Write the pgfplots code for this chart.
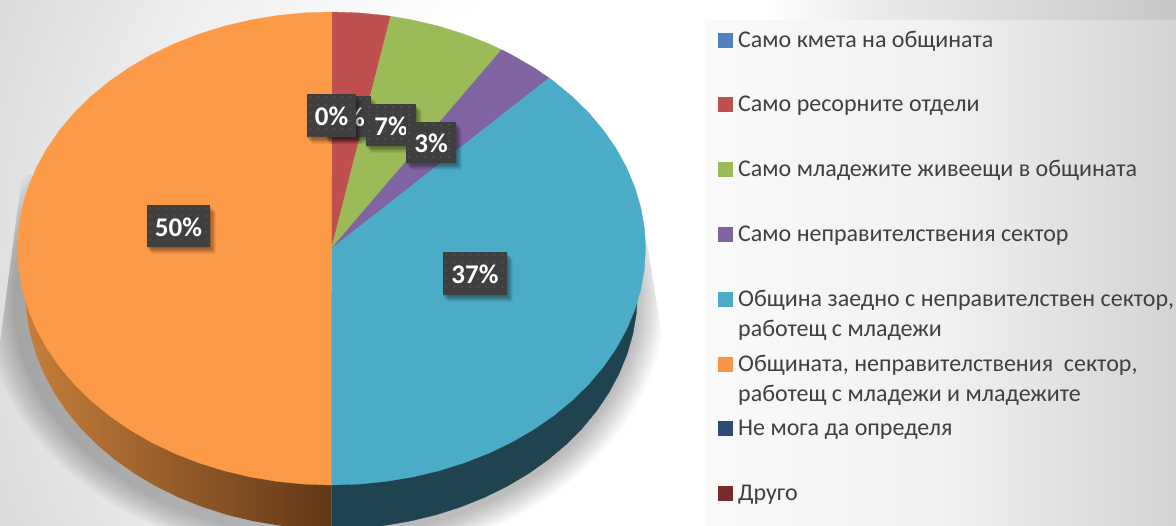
\documentclass[border=0pt]{standalone}
\usepackage{pgfplots}
\pgfplotsset{compat=1.18}
\usepackage{pgfplotstable}
\usepackage{fontspec}
\setmainfont{Carlito}
\definecolor{pblue}{HTML}{4F81BD}
\definecolor{pred}{HTML}{C0504D}
\definecolor{pgreen}{HTML}{9BBB59}
\definecolor{ppurple}{HTML}{8064A2}
\definecolor{pteal}{HTML}{4BACC6}
\definecolor{porange}{HTML}{F79646}
\definecolor{fteal}{HTML}{4BACC8}
\definecolor{forange}{HTML}{FC9A48}
\definecolor{pnavy}{HTML}{2C4D75}
\definecolor{pmaroon}{HTML}{772C2A}
\definecolor{txt}{HTML}{404040}
\definecolor{sideteal}{HTML}{1F4450}
\definecolor{sideL}{HTML}{C67E3A}
\definecolor{sideR}{HTML}{623818}
\definecolor{boxc}{HTML}{3F3F3F}
\definecolor{dotc}{HTML}{555555}
\pgfdeclareradialshading{bgshade}{\pgfpoint{0bp}{0bp}}{color(0bp)=(white); color(10.7bp)=(white); color(18.2bp)=(black!6.5); color(24.6bp)=(black!14); color(25bp)=(black!14); color(50bp)=(black!14)}
\pgfdeclarehorizontalshading{boxshade}{100bp}{color(0bp)=(black!2); color(25bp)=(black!2); color(50bp)=(black!5.5); color(75bp)=(black!17); color(100bp)=(black!17)}
\pgfdeclarehorizontalshading{topshade}{100bp}{color(0bp)=(white); color(25bp)=(white); color(32bp)=(white); color(43bp)=(black!8); color(53bp)=(black!12); color(75bp)=(black!22); color(100bp)=(black!22)}
% slice boundaries: s = sin t, c = cos t, t clockwise from the top of the pie
\pgfplotstableread{
s c
0 0
0 1
.0872 .9962
.1736 .9848
.1885 .9821
}\wedgeRed
\pgfplotstableread{
s c
0 0
.1885 .9821
.2588 .9659
.3420 .9397
.4226 .9063
.5 .8660
.5417 .8406
}\wedgeGreen
\pgfplotstableread{
s c
0 0
.5417 .8406
.5736 .8192
.6428 .7660
.6934 .7206
}\wedgePurple
\pgfplotstableread{
s c
0 0
.6934 .7206
.7071 .7071
.7660 .6428
.8192 .5736
.8660 .5
.9063 .4226
.9397 .3420
.9659 .2588
.9848 .1736
.9962 .0872
1 0
.9962 -.0872
.9848 -.1736
.9659 -.2588
.9397 -.3420
.9063 -.4226
.8660 -.5
.8192 -.5736
.7660 -.6428
.7071 -.7071
.6428 -.7660
.5736 -.8192
.5 -.8660
.4226 -.9063
.3420 -.9397
.2588 -.9659
.1736 -.9848
.0872 -.9962
0 -1
}\wedgeTeal
\pgfplotstableread{
s c
0 0
0 -1
-.0872 -.9962
-.1736 -.9848
-.2588 -.9659
-.3420 -.9397
-.4226 -.9063
-.5 -.8660
-.5736 -.8192
-.6428 -.7660
-.7071 -.7071
-.7660 -.6428
-.8192 -.5736
-.8660 -.5
-.9063 -.4226
-.9397 -.3420
-.9659 -.2588
-.9848 -.1736
-.9962 -.0872
-1 0
-.9962 .0872
-.9848 .1736
-.9659 .2588
-.9397 .3420
-.9063 .4226
-.8660 .5
-.8192 .5736
-.7660 .6428
-.7071 .7071
-.6428 .7660
-.5736 .8192
-.5 .8660
-.4226 .9063
-.3420 .9397
-.2588 .9659
-.1736 .9848
-.0872 .9962
0 1
}\wedgeOrange
\pgfplotstableread{
s c
0 0
1 0
.9962 -.0872
.9848 -.1736
.9659 -.2588
.9397 -.3420
.9063 -.4226
.8660 -.5
.8192 -.5736
.7660 -.6428
.7071 -.7071
.6428 -.7660
.5736 -.8192
.5 -.8660
.4226 -.9063
.3420 -.9397
.2588 -.9659
.1736 -.9848
.0872 -.9962
0 -1
}\sideTeal
\pgfplotstableread{
s c
0 0
0 -1
-.0872 -.9962
-.1736 -.9848
-.2588 -.9659
-.3420 -.9397
-.4226 -.9063
-.5 -.8660
-.5736 -.8192
-.6428 -.7660
-.7071 -.7071
-.7660 -.6428
-.8192 -.5736
-.8660 -.5
-.9063 -.4226
-.9397 -.3420
-.9659 -.2588
-.9848 -.1736
-.9962 -.0872
-1 0
}\sideOrange
\newcommand\lbl[5]{%
  \foreach \k in {1,...,8}{\fill[black,opacity=.06] (#1+\k*.7-1,#2+\k*.9) rectangle (#3+\k*.7,#4+\k*.9);}
  \fill[boxc] (#1,#2) rectangle (#3,#4);
  \begin{scope}
  \clip (#1,#2) rectangle (#3,#4);
  \foreach \i in {0,...,7}{\foreach \j in {0,...,5}{\fill[dotc] (#1+3+8*\i,#2+3+8*\j) circle (1pt);}}
  \end{scope}
  \node[text=white,font=\bfseries\fontsize{27}{27}\selectfont,inner sep=0pt] at ({(#1+#3)/2},{(#2+#4)/2+1.2}) {#5};}
\newcommand\leg[2]{\node[anchor=base west,inner sep=0pt,text=txt,font=\fontsize{24}{24}\selectfont] at (738,#1+.8) {#2};}
\begin{document}
\begin{tikzpicture}[x=1pt,y=-1pt]
\useasboundingbox (0,0) rectangle (1176,526);
% background
\begin{scope}
\clip (0,0) rectangle (1176,526);
\shade[shading=bgshade] (-60,-440) rectangle (1340,960);
\shade[shading=topshade] (700,0) rectangle (1176,21);
\shade[shading=boxshade] (705,21) rectangle (1176,526);
\end{scope}
% soft shadow of the pie
\begin{scope}
\clip (22,175) -- (0,343) -- (0,526) -- (704,526) -- (668,373) -- (636,175) -- cycle;
\foreach \k in {0,...,13}{\fill[black,opacity=.018] (325,300) ellipse [x radius={340-2.2*\k}, y radius={262-1.9*\k}];}
\end{scope}
\begin{axis}[at={(0,526)},anchor=south west,scale only axis,width=1176pt,height=526pt,
  hide axis,y dir=reverse,xmin=0,xmax=1176,ymin=0,ymax=526]
\addplot[draw=none,left color=sideL,right color=sideR] table[x expr=331.5+306*\thisrow{s},y expr=293-236*\thisrow{c}] {\sideOrange};
\addplot[fill=sideteal,draw=sideteal,line width=.3pt] table[x expr=331.5+306*\thisrow{s},y expr=293-236*\thisrow{c}] {\sideTeal};
\addplot[fill=pred,draw=pred,line width=.3pt] table[x expr=331.5+314*\thisrow{s},y expr=248.5-236.5*\thisrow{c}] {\wedgeRed};
\addplot[fill=pgreen,draw=pgreen,line width=.3pt] table[x expr=331.5+314*\thisrow{s},y expr=248.5-236.5*\thisrow{c}] {\wedgeGreen};
\addplot[fill=ppurple,draw=ppurple,line width=.3pt] table[x expr=331.5+314*\thisrow{s},y expr=248.5-236.5*\thisrow{c}] {\wedgePurple};
\addplot[fill=fteal,draw=fteal,line width=.3pt] table[x expr=331.5+314*\thisrow{s},y expr=248.5-236.5*\thisrow{c}] {\wedgeTeal};
\addplot[fill=forange,draw=forange,line width=.3pt] table[x expr=331.5+314*\thisrow{s},y expr=248.5-236.5*\thisrow{c}] {\wedgeOrange};
% legend swatches
\addplot[only marks,mark=square*,mark size=7pt,color=pblue] coordinates {(725,40)};
\addplot[only marks,mark=square*,mark size=7pt,color=pred] coordinates {(725,104)};
\addplot[only marks,mark=square*,mark size=7pt,color=pgreen] coordinates {(725,169)};
\addplot[only marks,mark=square*,mark size=7pt,color=ppurple] coordinates {(725,234)};
\addplot[only marks,mark=square*,mark size=7pt,color=pteal] coordinates {(725,299)};
\addplot[only marks,mark=square*,mark size=7pt,color=porange] coordinates {(725,364)};
\addplot[only marks,mark=square*,mark size=7pt,color=pnavy] coordinates {(725,428)};
\addplot[only marks,mark=square*,mark size=7pt,color=pmaroon] coordinates {(725,493)};
\end{axis}
% data labels
\lbl{325}{96}{371}{137}{3\%}
\lbl{307}{94}{356}{137}{0\%}
\lbl{366}{104}{416}{146}{7\%}
\lbl{406}{122}{456}{163}{3\%}
\lbl{147}{205}{210}{247}{50\%}
\lbl{443}{252}{507}{295}{37\%}
% legend text
\leg{47}{Само кмета на общината}
\leg{111}{Само ресорните отдели}
\leg{176}{Само младежите живеещи в общината}
\leg{241}{Само неправителствения сектор}
\leg{306}{Община заедно с неправителствен сектор,}
\leg{336}{работещ с младежи}
\leg{371}{Общината, неправителствения\ \ сектор,}
\leg{401}{работещ с младежи и младежите}
\leg{435}{Не мога да определя}
\leg{500}{Друго}
\end{tikzpicture}
\end{document}
